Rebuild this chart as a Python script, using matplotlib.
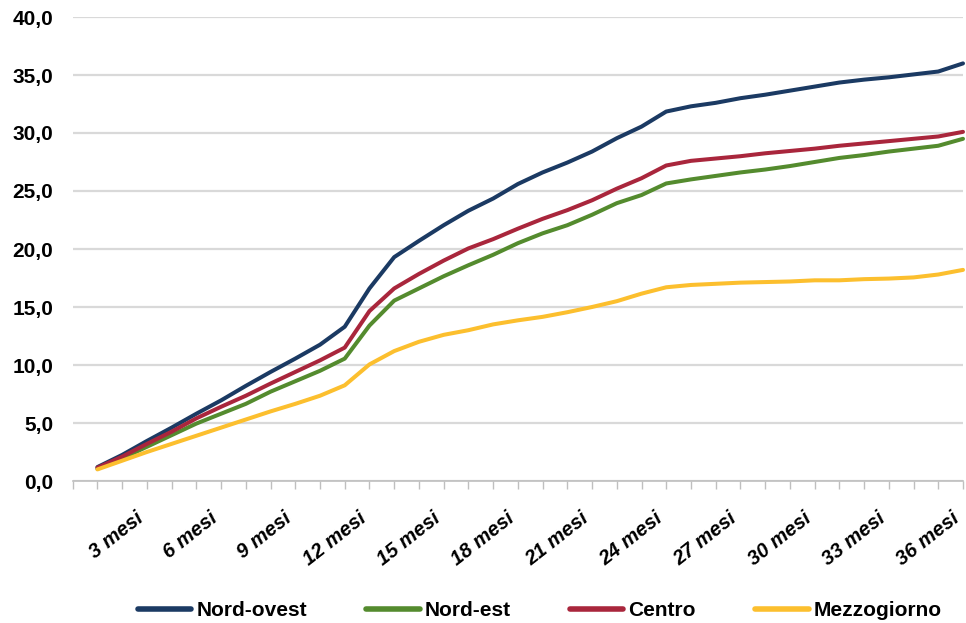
import matplotlib
matplotlib.use("Agg")
import matplotlib.pyplot as plt
from matplotlib.ticker import FuncFormatter, FixedLocator, MultipleLocator

# Monthly cumulative values for each macro-area
months = list(range(1, 37))
tick_months = list(range(3, 37, 3))
tick_labels = [f"{m} mesi" for m in tick_months]

series_names = ["Nord-ovest", "Nord-est", "Centro", "Mezzogiorno"]

nord_ovest = [1.2, 2.25, 3.45, 4.6, 5.8, 6.95, 8.2, 9.4, 10.55, 11.75, 13.3, 16.6,
              19.3, 20.7, 22.05, 23.3, 24.35, 25.6, 26.6, 27.45, 28.4, 29.55, 30.55, 31.85,
              32.3, 32.6, 33.0, 33.3, 33.65, 34.0, 34.35, 34.6, 34.8, 35.05, 35.3, 36.0]
nord_est = [1.05, 1.95, 2.95, 3.95, 4.95, 5.8, 6.65, 7.7, 8.6, 9.5, 10.55, 13.4,
            15.55, 16.6, 17.65, 18.6, 19.5, 20.5, 21.35, 22.05, 22.95, 23.95, 24.65, 25.65,
            26.0, 26.3, 26.6, 26.85, 27.15, 27.5, 27.85, 28.1, 28.4, 28.65, 28.9, 29.5]
centro = [1.15, 2.1, 3.2, 4.25, 5.4, 6.4, 7.35, 8.4, 9.4, 10.4, 11.5, 14.65,
          16.6, 17.85, 19.0, 20.05, 20.85, 21.75, 22.6, 23.35, 24.2, 25.2, 26.1, 27.2,
          27.6, 27.8, 28.0, 28.25, 28.45, 28.65, 28.9, 29.1, 29.3, 29.5, 29.7, 30.1]
mezzogiorno = [1.0, 1.75, 2.5, 3.2, 3.9, 4.6, 5.3, 6.0, 6.65, 7.35, 8.25, 10.05,
               11.2, 12.0, 12.6, 13.0, 13.5, 13.85, 14.15, 14.55, 15.0, 15.5, 16.15, 16.7,
               16.9, 17.0, 17.1, 17.15, 17.2, 17.3, 17.3, 17.4, 17.45, 17.55, 17.8, 18.2]

colors = ["#1b3a63", "#548b2e", "#a9263c", "#fcbf2e"]

plt.rcParams["font.family"] = ["Liberation Sans", "DejaVu Sans"]
plt.rcParams["font.weight"] = "bold"

fig = plt.figure(figsize=(9.66, 6.23), dpi=100)
ax = fig.add_axes([72.7 / 966, 142 / 623, (963 - 72.7) / 966, 464 / 623])

for name, vals, c in zip(series_names, [nord_ovest, nord_est, centro, mezzogiorno], colors):
    ax.plot(months, vals, color=c, lw=2.9, label=name,
            solid_joinstyle="round", solid_capstyle="round", clip_on=False)

ax.set_xlim(0, 36)
ax.set_ylim(0, 40)

# y axis: gridlines every 5, comma decimal
ax.yaxis.set_major_locator(MultipleLocator(5))
ax.yaxis.set_major_formatter(FuncFormatter(lambda v, p: f"{v:.1f}".replace(".", ",")))
ax.grid(axis="y", color="#d9d9d9", lw=1.6)
ax.set_axisbelow(True)
ax.tick_params(axis="y", length=0, pad=14, labelsize=15)
for lbl in ax.get_yticklabels():
    lbl.set_fontweight("bold")

# x axis: a tick for each month, labels every 3 months
ax.xaxis.set_major_locator(FixedLocator(tick_months))
ax.xaxis.set_minor_locator(FixedLocator(list(range(0, 37))))
ax.set_xticklabels(tick_labels, rotation=38, ha="right", va="top",
                   fontsize=14.5, fontweight="bold", fontstyle="italic")
ax.tick_params(axis="x", which="both", length=6, width=1, color="#bfbfbf", pad=14)

for side in ["top", "right", "left"]:
    ax.spines[side].set_visible(False)
ax.spines["bottom"].set_color("#bfbfbf")
ax.spines["bottom"].set_linewidth(1.2)

leg = fig.legend(loc="center", bbox_to_anchor=(540 / 966, 12 / 623), ncol=4,
                 frameon=False, fontsize=15, handlelength=2.55, handletextpad=0.25,
                 columnspacing=2.85)
for t in leg.get_texts():
    t.set_fontweight("bold")
for h in leg.get_lines():
    h.set_linewidth(4)

fig.savefig("out.png", dpi=100)
